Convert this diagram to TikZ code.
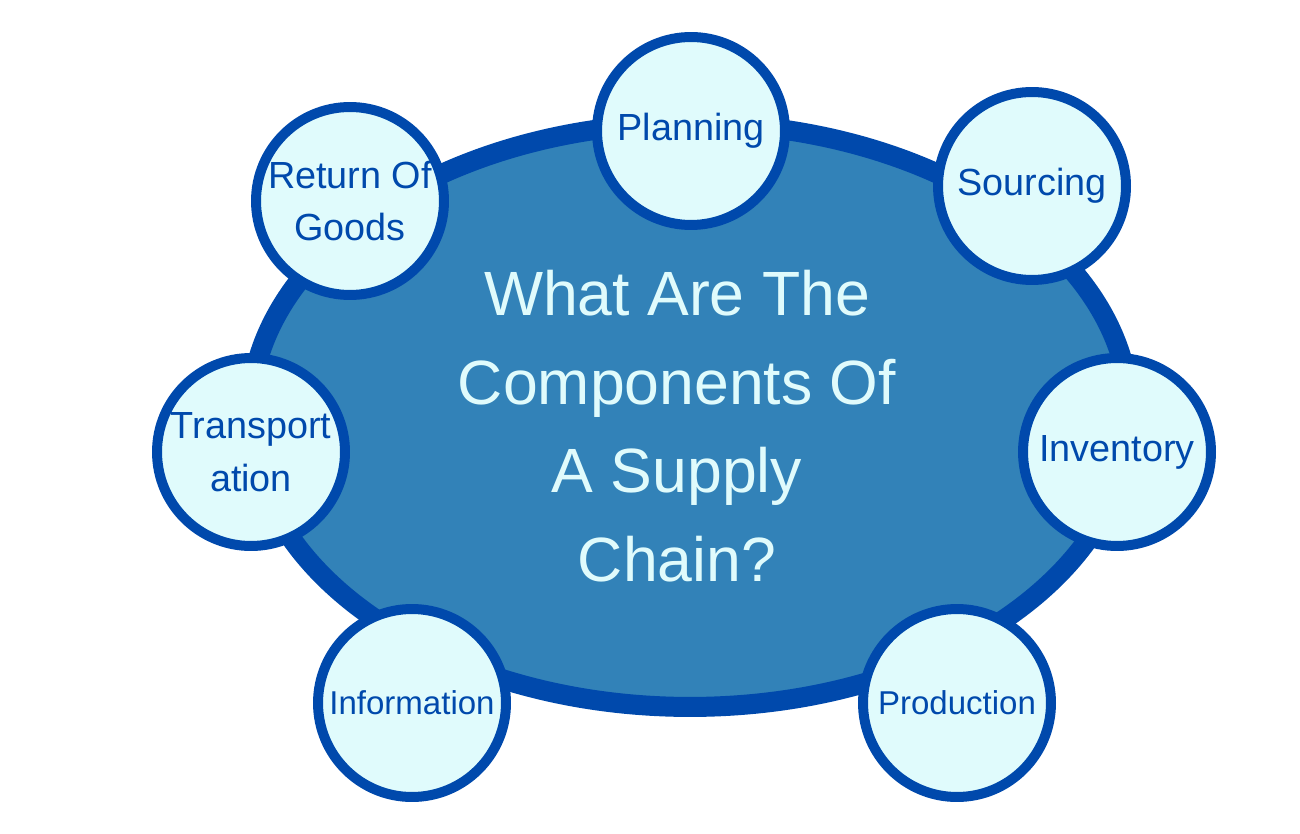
\documentclass[tikz,border=0pt]{standalone}
\usepackage{fontspec}
\setmainfont{Liberation Sans}
\usepackage{xcolor}
\usepackage{tikz}
\usetikzlibrary{shapes.geometric}

\definecolor{rimblue}{HTML}{0049AC}
\definecolor{hubblue}{HTML}{3282B8}
\definecolor{paleaqua}{HTML}{E0FBFC}

\begin{document}
\begin{tikzpicture}[
    x=0.02cm, y=-0.02cm,
    hubshape/.style={ellipse, draw=rimblue, fill=hubblue, line width=0.4cm, minimum width=17.6cm, minimum height=11.68cm, inner sep=0pt},
    component/.style={circle, draw=rimblue, fill=paleaqua, line width=0.2cm, minimum size=3.76cm, inner sep=0pt, align=center, text=rimblue, font=\fontsize{21.5}{30}\selectfont},
    smallcomponent/.style={component, font=\fontsize{18.8}{26}\selectfont},
    headline/.style={align=center, text=paleaqua, font=\fontsize{35.6}{50.4}\selectfont}
  ]
    \useasboundingbox (0,0) rectangle (1300,834);
    \node[hubshape] (hub) at (690,415) {};
    \node[headline] (title) at (677,426) {What Are The\\Components Of\\A Supply\\Chain?};
    \node[component] (planning) at (691,131) {Planning};
    \node[component] (sourcing) at (1032,186) {Sourcing};
    \node[component] (inventory) at (1117,452) {Inventory};
    \node[smallcomponent] (production) at (957,703) {Production};
    \node[smallcomponent] (information) at (412,703) {Information};
    \node[component] (transport) at (251,452) {Transport\\ation};
    \node[component] (returns) at (350,201) {Return Of\\Goods};
  \end{tikzpicture}
\end{document}
